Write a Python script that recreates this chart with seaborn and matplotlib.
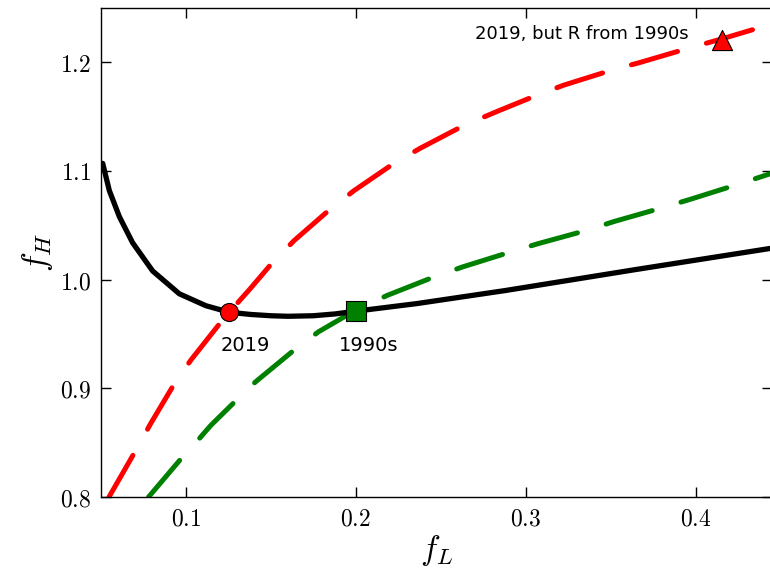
import numpy as np
import pandas as pd
import matplotlib
matplotlib.use("Agg")
import matplotlib.pyplot as plt
from matplotlib.ticker import FuncFormatter
import seaborn as sns

# curves (f_L, f_H)
fl_black = [0.051, 0.0549, 0.0608, 0.0686, 0.0804, 0.0961, 0.1118, 0.1255, 0.138,
            0.150, 0.160, 0.175, 0.188, 0.200, 0.236, 0.288, 0.3635, 0.445]
fh_black = [1.107, 1.082, 1.058, 1.034, 1.008, 0.987, 0.976, 0.970, 0.968,
            0.9668, 0.9663, 0.9668, 0.9685, 0.971, 0.978, 0.990, 1.009, 1.029]

fl_red = [0.0547, 0.0694, 0.0794, 0.0931, 0.1029, 0.1206, 0.1255, 0.138, 0.150, 0.1637,
          0.185, 0.199, 0.2224, 0.238, 0.2637, 0.285, 0.307, 0.3224, 0.351, 0.3676,
          0.395, 0.4153, 0.440, 0.445]
fh_red = [0.800, 0.840, 0.868, 0.904, 0.926, 0.961, 0.970, 0.992, 1.014, 1.036,
          1.065, 1.082, 1.107, 1.121, 1.142, 1.156, 1.170, 1.179, 1.193, 1.200,
          1.2126, 1.2215, 1.233, 1.235]

fl_green = [0.078, 0.097, 0.108, 0.1147, 0.129, 0.141, 0.1635, 0.178, 0.200, 0.2186,
            0.246, 0.2628, 0.288, 0.307, 0.335, 0.352, 0.380, 0.397, 0.4245, 0.445]
fh_green = [0.800, 0.835, 0.854, 0.866, 0.888, 0.906, 0.935, 0.952, 0.972, 0.9856,
            1.0025, 1.0117, 1.024, 1.033, 1.045, 1.0535, 1.066, 1.074, 1.0875, 1.098]

# marked points
pt_2019 = (0.1255, 0.970)
pt_1990s = (0.200, 0.971)
pt_2019_R1990s = (0.4153, 1.2205)

x_ticks = [0.1, 0.2, 0.3, 0.4]
y_ticks = [0.8, 0.9, 1.0, 1.1, 1.2]

sns.set_style("ticks")
plt.rcParams["mathtext.fontset"] = "cm"
plt.rcParams["font.family"] = ["DejaVu Sans"]
plt.rcParams["text.color"] = "black"
plt.rcParams["axes.labelcolor"] = "black"
plt.rcParams["xtick.color"] = "black"
plt.rcParams["ytick.color"] = "black"

fig = plt.figure(figsize=(7.7, 5.76), dpi=100)
ax = fig.add_axes([101 / 770, 79 / 576, 671 / 770, 489 / 576])

dash = (0, (9.6, 6))
sns.lineplot(x=fl_red, y=fh_red, ax=ax, color="red", lw=3.6,
             linestyle=dash, dash_capstyle="round")
sns.lineplot(x=fl_green, y=fh_green, ax=ax, color="green", lw=3.6,
             linestyle=dash, dash_capstyle="round")
sns.lineplot(x=fl_black, y=fh_black, ax=ax, color="black", lw=3.8)

sns.scatterplot(x=[pt_2019[0]], y=[pt_2019[1]], ax=ax, marker="o", s=13 ** 2,
                color="red", edgecolor="black", linewidth=0.8, zorder=5)
sns.scatterplot(x=[pt_1990s[0]], y=[pt_1990s[1]], ax=ax, marker="s", s=14.5 ** 2,
                color="green", edgecolor="black", linewidth=0.8, zorder=5)
sns.scatterplot(x=[pt_2019_R1990s[0]], y=[pt_2019_R1990s[1]], ax=ax, marker="^",
                s=14.5 ** 2, color="red", edgecolor="black", linewidth=0.8, zorder=5)

ax.text(0.135, 0.9396, "2019", ha="center", va="center", fontsize=14, color="black")
ax.text(0.2074, 0.9396, "1990s", ha="center", va="center", fontsize=14, color="black")
ax.text(0.396, 1.2258, "2019, but R from 1990s", ha="right", va="center",
        fontsize=13, color="black")

ax.set_xlim(0.05, 0.445)
ax.set_ylim(0.8, 1.25)
ax.set_xticks(x_ticks)
ax.set_yticks(y_ticks)
fmt = FuncFormatter(lambda v, p: "$%.1f$" % v)
ax.xaxis.set_major_formatter(fmt)
ax.yaxis.set_major_formatter(fmt)
ax.tick_params(direction="in", top=True, right=True, length=7, width=1,
               labelsize=17, pad=7, color="black", labelcolor="black")
for s in ax.spines.values():
    s.set_linewidth(1.0)
    s.set_color("black")

ax.set_xlabel("$f_L$", fontsize=24, labelpad=2)
ax.set_ylabel("$f_H$", fontsize=24, labelpad=4)

fig.savefig("out.png", dpi=100)
